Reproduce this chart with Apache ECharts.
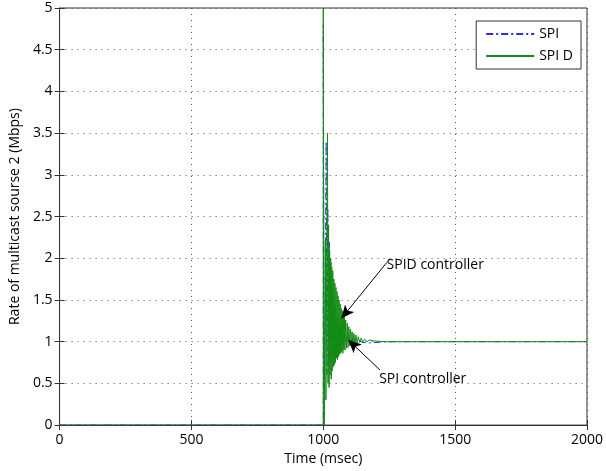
<!DOCTYPE html>
<html>
<head>
<meta charset="utf-8">
<script src="https://cdn.jsdelivr.net/npm/echarts@6/dist/echarts.min.js"></script>
<style>
  html, body { margin: 0; padding: 0; background: #fff; }
  #chart { width: 606px; height: 471px; }
</style>
</head>
<body>
<div id="chart"></div>
<script>
// rate of multicast source 2: [time msec, Mbps]
var spiData = [
  [0, 0], [1000, 0], [1000, 4.8], [1003, 0], [1007, 1.5], [1011, 3.4], [1014, 0.6],
  [1017, 2.6], [1020, 0.7], [1023, 2.2], [1026, 0.75], [1029, 1.95], [1032, 0.8],
  [1035, 1.65], [1038, 0.82], [1041, 1.5], [1044, 0.85], [1047, 1.4], [1050, 0.88],
  [1054, 1.3], [1058, 0.9], [1062, 1.22], [1066, 0.92], [1070, 1.16], [1075, 0.94],
  [1080, 1.11], [1086, 0.96], [1092, 1.07], [1100, 0.97], [1110, 1.04], [1120, 0.98],
  [1135, 1.01], [1150, 0.99], [1170, 0.985], [1200, 0.99], [1240, 0.998], [1280, 1.0],
  [2000, 1.0]
];
var spidData = [
  [0, 0], [1000, 0], [1000, 5], [1003, 0], [1006, 0], [1008, 2.2], [1010, 0.3],
  [1013, 1.9], [1016, 3.5], [1018, 0.5], [1020, 2.4], [1022, 0.45], [1024, 2.1],
  [1026, 0.6], [1028, 2.0], [1030, 0.55], [1032, 1.9], [1034, 0.65], [1036, 1.85],
  [1038, 0.7], [1040, 1.75], [1042, 0.72], [1044, 1.7], [1046, 0.75], [1048, 1.65],
  [1050, 0.8], [1052, 1.6], [1054, 0.78], [1056, 1.55], [1058, 0.82], [1060, 1.5],
  [1062, 0.85], [1064, 1.45], [1066, 0.86], [1068, 1.4], [1070, 0.88], [1072, 1.37],
  [1074, 0.86], [1076, 1.33], [1078, 0.9], [1080, 1.3], [1082, 0.9], [1085, 1.26],
  [1088, 0.92], [1091, 1.22], [1094, 0.93], [1097, 1.18], [1100, 0.95], [1103, 1.15],
  [1106, 0.95], [1109, 1.12], [1112, 0.96], [1116, 1.1], [1120, 0.97], [1124, 1.08],
  [1128, 0.98], [1133, 1.06], [1138, 0.99], [1144, 1.045], [1150, 0.995], [1157, 1.03],
  [1165, 1.0], [1175, 1.02], [1190, 1.01], [1210, 1.005], [1240, 1.0], [2000, 1.0]
];
var seriesNames = ['SPI', 'SPI D'];

var font = '"Open Sans", "Noto Sans", sans-serif';
var chart = echarts.init(document.getElementById('chart'), null, { renderer: 'canvas' });

var gridLine = { show: true, lineStyle: { color: '#555', width: 1, type: [1, 5] } };

var option = {
  animation: false,
  backgroundColor: '#fff',
  textStyle: { fontFamily: font },
  grid: {
    left: 59, right: 14, top: 8, bottom: 42,
    show: true, borderColor: '#333', borderWidth: 1, backgroundColor: '#fff'
  },
  legend: {
    orient: 'vertical',
    right: 25, top: 21,
    data: seriesNames,
    borderColor: '#333', borderWidth: 1,
    backgroundColor: '#fff',
    padding: [6, 8, 6, 9],
    itemGap: 8,
    itemWidth: 48, itemHeight: 14,
    itemStyle: { opacity: 0 },
    textStyle: { fontSize: 14, color: '#000', fontFamily: font }
  },
  xAxis: [{
    type: 'value', min: 0, max: 2000, interval: 500,
    name: 'Time (msec)', nameLocation: 'middle', nameGap: 25,
    nameTextStyle: { fontSize: 14, color: '#000' },
    axisLine: { show: true, lineStyle: { color: '#333' } },
    axisTick: { show: true, inside: true, length: 5, lineStyle: { color: '#333' } },
    axisLabel: { fontSize: 14, color: '#000', margin: 8, formatter: function (v) { return String(v); } },
    splitLine: gridLine
  }, {
    type: 'value', min: 0, max: 2000, interval: 500, position: 'top',
    axisLine: { show: false },
    axisTick: { show: true, inside: true, length: 5, lineStyle: { color: '#333' } },
    axisLabel: { show: false },
    splitLine: { show: false }
  }],
  yAxis: [{
    type: 'value', min: 0, max: 5, interval: 0.5,
    name: 'Rate of multicast sourse 2 (Mbps)', nameLocation: 'middle', nameGap: 32,
    nameTextStyle: { fontSize: 14, color: '#000' },
    axisLine: { show: true, lineStyle: { color: '#333' } },
    axisTick: { show: true, inside: true, length: 5, lineStyle: { color: '#333' } },
    axisLabel: { fontSize: 14, color: '#000', margin: 7 },
    splitLine: gridLine
  }, {
    type: 'value', min: 0, max: 5, interval: 0.5, position: 'right',
    axisLine: { show: false },
    axisTick: { show: true, inside: true, length: 5, lineStyle: { color: '#333' } },
    axisLabel: { show: false },
    splitLine: { show: false }
  }],
  series: [{
    name: seriesNames[0],
    type: 'line',
    data: spiData,
    symbol: 'none',
    color: '#2b2be6',
    lineStyle: { width: 1, color: '#2b2be6', type: [7, 3, 2, 3] }
  }, {
    name: seriesNames[1],
    type: 'line',
    data: spidData,
    symbol: 'none',
    color: '#138c13',
    lineStyle: { width: 1, color: '#138c13' },
    markLine: {
      silent: true,
      symbol: ['none', 'arrow'],
      symbolSize: [9, 13],
      label: { show: false },
      lineStyle: { color: '#000', width: 1, type: 'solid' },
      data: [
        [{ coord: [1241, 1.95] }, { coord: [1069, 1.28] }],
        [{ coord: [1215, 0.66] }, { coord: [1095, 1.02] }]
      ]
    },
    markPoint: {
      silent: true,
      symbol: 'circle',
      symbolSize: 0,
      label: {
        show: true, position: 'right', distance: 0,
        formatter: '{b}', fontSize: 14, color: '#000', fontFamily: font
      },
      data: [
        { name: 'SPID controller', coord: [1240, 1.92] },
        { name: 'SPI controller', coord: [1212, 0.55] }
      ]
    }
  }]
};

chart.setOption(option);
</script>
</body>
</html>
